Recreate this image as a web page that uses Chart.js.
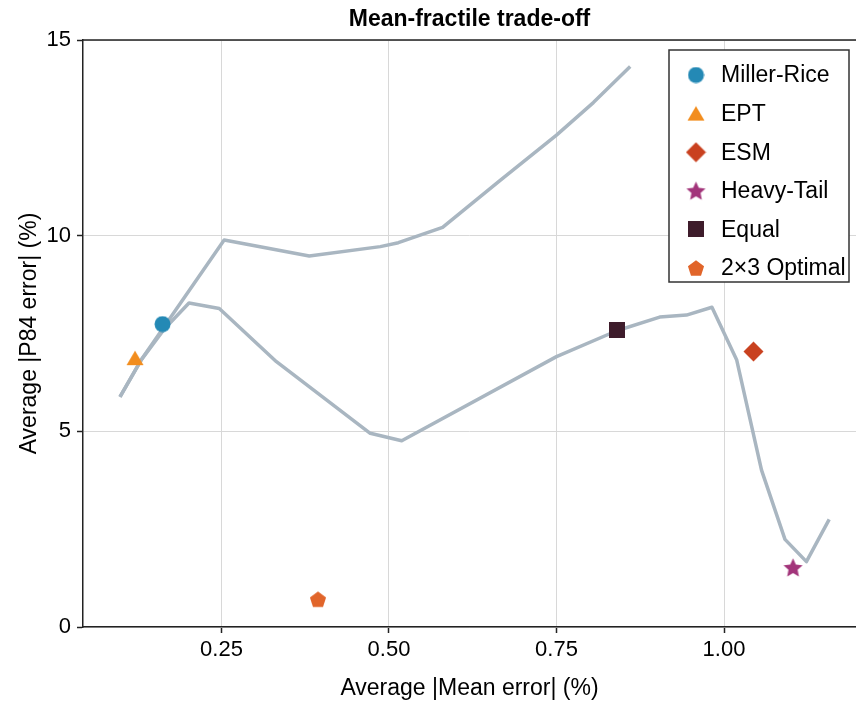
<!DOCTYPE html>
<html lang="en">
<head>
<meta charset="UTF-8">
<title>Mean-fractile trade-off</title>
<script src="https://cdn.jsdelivr.net/npm/chart.js@4.4.0/dist/chart.umd.min.js"></script>
<style>
    html, body { margin: 0; padding: 0; background: #fff; }
    #wrap { width: 856px; height: 702px; }
</style>
</head>
<body>
<div id="wrap"><canvas id="chart" width="856" height="702"></canvas></div>

<script>
    // frontier curves (mean error vs P84 error)
    var upperX = [0.0985, 0.13, 0.254, 0.381, 0.487, 0.514, 0.580, 0.665, 0.750, 0.805, 0.860];
    var upperY = [5.88, 6.82, 9.89, 9.48, 9.72, 9.82, 10.21, 11.40, 12.57, 13.40, 14.32];

    var lowerX = [0.0985, 0.13, 0.165, 0.2015, 0.2467, 0.332, 0.472, 0.519, 0.750, 0.840, 0.904, 0.944, 0.982, 1.019, 1.056, 1.091, 1.123, 1.157];
    var lowerY = [5.88, 6.82, 7.62, 8.28, 8.14, 6.78, 4.95, 4.76, 6.91, 7.57, 7.92, 7.97, 8.17, 6.82, 4.01, 2.24, 1.67, 2.75];

    // individual methods
    var methodNames = ['Miller-Rice', 'EPT', 'ESM', 'Heavy-Tail', 'Equal', '2×3 Optimal'];
    var methodX = [0.162, 0.121, 1.044, 1.103, 0.840, 0.394];
    var methodY = [7.74, 6.87, 7.04, 1.52, 7.58, 0.71];
    var methodColors = ['#2489b5', '#f28d1e', '#c9411f', '#a2347a', '#3e1c2b', '#e1652a'];
    var methodShapes = ['circle', 'triangle', 'diamond', 'star', 'square', 'pentagon'];
    var methodSizes = [17, 18, 21, 21, 16, 18];

    var xTicks = [0.25, 0.50, 0.75, 1.00];
    var yTicks = [0, 5, 10, 15];

    var FONT = '"Liberation Sans", Arial, Helvetica, sans-serif';
    var LINE_COLOR = '#a9b6c1';

    // marker images
    function makeMarker(shape, color, size) {
        var c = document.createElement('canvas');
        c.width = size; c.height = size;
        var g = c.getContext('2d');
        var r = size / 2;
        g.fillStyle = color;
        g.beginPath();
        if (shape === 'circle') {
            g.arc(r, r, r - 0.5, 0, Math.PI * 2);
        } else if (shape === 'triangle') {
            g.moveTo(r, 1.5);
            g.lineTo(size - 0.5, size - 2);
            g.lineTo(0.5, size - 2);
        } else if (shape === 'diamond') {
            g.moveTo(r, 0.5);
            g.lineTo(size - 0.5, r);
            g.lineTo(r, size - 0.5);
            g.lineTo(0.5, r);
        } else if (shape === 'square') {
            g.rect(0, 0, size, size);
        } else if (shape === 'star' || shape === 'pentagon') {
            var n = shape === 'star' ? 10 : 5;
            for (var i = 0; i < n; i++) {
                var ang = -Math.PI / 2 + i * Math.PI * 2 / n;
                var rr = (shape === 'star' && i % 2 === 1) ? (r - 0.5) * 0.48 : r - 0.5;
                var px = r + rr * Math.cos(ang), py = r + 0.8 + rr * Math.sin(ang);
                if (i === 0) g.moveTo(px, py); else g.lineTo(px, py);
            }
        }
        g.closePath();
        g.fill();
        return c;
    }

    var markerImgs = methodShapes.map(function (s, i) {
        return makeMarker(s, methodColors[i], methodSizes[i]);
    });

    function toPoints(xs, ys) {
        return xs.map(function (x, i) { return {x: x, y: ys[i]}; });
    }

    var datasets = [];
    for (var i = 0; i < methodNames.length; i++) {
        datasets.push({
            label: methodNames[i],
            data: [{x: methodX[i], y: methodY[i]}],
            pointStyle: markerImgs[i],
            pointRadius: methodSizes[i] / 2,
            backgroundColor: methodColors[i],
            borderWidth: 0,
            order: 1
        });
    }
    [[upperX, upperY], [lowerX, lowerY]].forEach(function (c, k) {
        datasets.push({
            label: 'frontier' + k,
            data: toPoints(c[0], c[1]),
            showLine: true,
            pointRadius: 0,
            borderColor: LINE_COLOR,
            borderWidth: 3.5,
            borderJoinStyle: 'round',
            fill: false,
            tension: 0,
            order: 2
        });
    });

    // top spine + legend box
    var frame = {
        id: 'frame',
        afterDraw: function (chart) {
            var ctx = chart.ctx, a = chart.chartArea;
            ctx.save();
            ctx.strokeStyle = '#222';
            ctx.lineWidth = 1.5;
            ctx.beginPath();
            ctx.moveTo(a.left, a.top);
            ctx.lineTo(a.right, a.top);
            ctx.stroke();

            var x0 = a.right - 187, y0 = a.top + 10, w = 180, h = 232;
            ctx.fillStyle = '#fff';
            ctx.fillRect(x0, y0, w, h);
            ctx.strokeStyle = '#333';
            ctx.lineWidth = 1.5;
            ctx.strokeRect(x0, y0, w, h);
            ctx.font = '23px ' + FONT;
            ctx.textBaseline = 'middle';
            ctx.fillStyle = '#000';
            for (var i = 0; i < methodNames.length; i++) {
                var cy = y0 + 25 + i * 38.6;
                var img = markerImgs[i];
                ctx.drawImage(img, x0 + 27 - img.width / 2, cy - img.height / 2);
                ctx.fillText(methodNames[i], x0 + 52, cy + 1);
            }
            ctx.restore();
        }
    };

    var ctx = document.getElementById('chart');
    new Chart(ctx, {
        type: 'scatter',
        data: {datasets: datasets},
        options: {
            responsive: false,
            animation: false,
            layout: {padding: {top: 0, right: 0, bottom: 0, left: 0}, autoPadding: false},
            plugins: {
                legend: {display: false},
                tooltip: {enabled: false},
                title: {
                    display: true,
                    fullSize: false,
                    text: 'Mean-fractile trade-off',
                    color: '#000',
                    font: {family: FONT, size: 23, weight: 'bold'},
                    padding: {top: 6, bottom: 6.4}
                }
            },
            scales: {
                x: {
                    type: 'linear',
                    min: 0.0433,
                    max: 1.197,
                    afterBuildTicks: function (s) { s.ticks = xTicks.map(function (v) { return {value: v}; }); },
                    afterFit: function (s) { s.height = 75; s.paddingLeft = 0; s.paddingRight = 0; },
                    ticks: {
                        callback: function (v) { return Number(v).toFixed(2); },
                        font: {family: FONT, size: 22},
                        color: '#000',
                        padding: 4,
                        maxRotation: 0,
                        autoSkip: false
                    },
                    grid: {color: '#d8d8d8', lineWidth: 1, tickLength: 6, tickColor: '#222', tickWidth: 1.5},
                    border: {color: '#222', width: 1.5},
                    title: {
                        display: true,
                        text: 'Average |Mean error| (%)',
                        color: '#000',
                        font: {family: FONT, size: 23},
                        padding: {top: 1, bottom: 0}
                    }
                },
                y: {
                    type: 'linear',
                    min: 0,
                    max: 15,
                    afterBuildTicks: function (s) { s.ticks = yTicks.map(function (v) { return {value: v}; }); },
                    afterFit: function (s) { s.width = 83; s.paddingTop = 0; s.paddingBottom = 0; },
                    ticks: {
                        callback: function (v) { return String(v); },
                        font: {family: FONT, size: 22},
                        color: '#000',
                        padding: 6,
                        autoSkip: false
                    },
                    grid: {color: '#d8d8d8', lineWidth: 1, tickLength: 6, tickColor: '#222', tickWidth: 1.5},
                    border: {color: '#222', width: 1.5},
                    title: {
                        display: true,
                        text: 'Average |P84 error| (%)',
                        color: '#000',
                        font: {family: FONT, size: 23},
                        padding: {top: 16, bottom: 0}
                    }
                }
            }
        },
        plugins: [frame]
    });
</script>
</body>
</html>
